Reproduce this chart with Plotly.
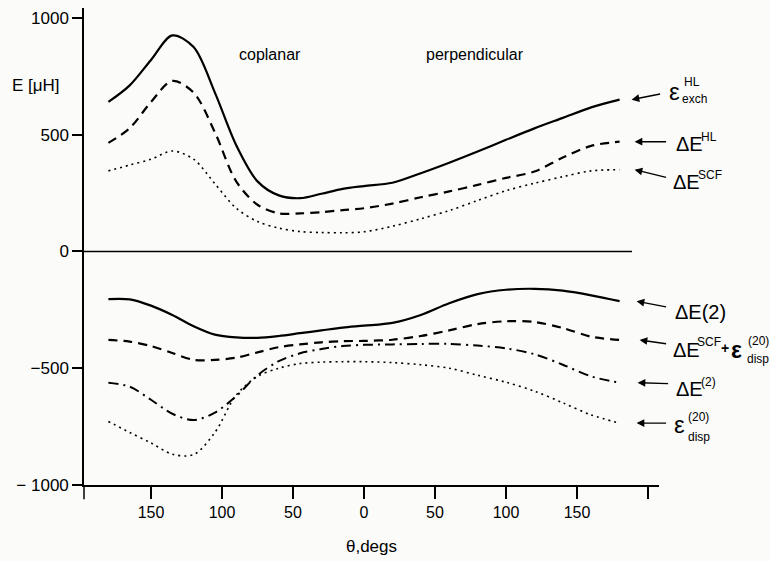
import plotly.graph_objects as go

# ---------------- data ----------------
theta = [-180, -165, -150, -135, -120, -105, -90, -75, -60, -45, -30, -15,
         0, 20, 40, 60, 80, 100, 120, 140, 160, 180]

eps_exch_hl = [640, 711, 820, 925, 875, 680, 455, 300, 240, 228, 247, 268,
               280, 294, 335, 380, 428, 478, 527, 572, 617, 650]
dE_hl = [465, 528, 640, 730, 680, 510, 300, 200, 163, 163, 168, 177,
         185, 205, 232, 257, 285, 315, 342, 402, 452, 470]
dE_scf = [345, 370, 395, 430, 395, 290, 185, 128, 100, 85, 81, 80,
          84, 108, 140, 175, 218, 260, 292, 320, 345, 350]
dE_2 = [-204, -205, -232, -272, -320, -356, -368, -370, -362, -350, -338, -326,
        -318, -306, -272, -222, -183, -164, -160, -168, -188, -213]
dE_scf_disp = [-379, -386, -405, -435, -464, -464, -455, -432, -410, -398, -389, -384,
               -383, -378, -362, -338, -311, -299, -302, -328, -365, -379]
dE_2sup = [-562, -579, -635, -695, -722, -690, -620, -530, -470, -436, -418, -405,
           -400, -398, -396, -396, -403, -415, -440, -485, -535, -562]
eps_disp = [-728, -775, -820, -868, -870, -775, -615, -535, -500, -480, -474, -472,
            -472, -476, -485, -500, -530, -560, -598, -648, -700, -735]

x_tickvals = [-150, -100, -50, 0, 50, 100, 150, 200]
x_ticktext = ["150", "100", "50", "0", "50", "100", "150", ""]
y_tickvals = [-1000, -500, 0, 500, 1000]
y_ticktext = ["\u2212 1000", "\u2212500", "0", "500", "1000"]

# ---------------- figure ----------------
FONT = "Liberation Sans"
W, H = 770, 561
ML, MR, MT, MB = 84, 111, 8, 71
PW, PH = W - ML - MR, H - MT - MB


def P(px, py):
    return (px - ML) / PW, (H - MB - py) / PH


fig = go.Figure()

series = [
    (eps_exch_hl, None, 2.2),
    (dE_hl, "9px,6px", 2.2),
    (dE_scf, "2px,4px", 1.6),
    (dE_2, None, 2.2),
    (dE_scf_disp, "9px,6px", 2.2),
    (dE_2sup, "10px,5px,2px,5px", 2.0),
    (eps_disp, "2px,4px", 1.6),
]
for ys, dash, w in series:
    fig.add_trace(go.Scatter(
        x=theta, y=ys, mode="lines",
        line=dict(color="black", width=w, dash=dash or "solid",
                  shape="spline", smoothing=0.9),
        showlegend=False, hoverinfo="skip"))

# zero line
fig.add_shape(type="line", xref="paper", x0=0, x1=P(632, 0)[0],
              yref="y", y0=0, y1=0, line=dict(color="black", width=1.5))
# y-axis stub below x axis
fig.add_shape(type="line", xref="paper", x0=0, x1=0, yref="paper",
              y0=0, y1=-0.03, line=dict(color="black", width=1.5))

# arrows pointing at curve ends: (series, head x shift, tail dx, tail dy)
arrows = [
    (eps_exch_hl, 12, 30, -6),
    (dE_hl, 15, 33, 0),
    (dE_scf, 15, 33, 8),
    (dE_2, 17, 31, 6),
    (dE_scf_disp, 20, 28, 4),
    (dE_2sup, 18, 32, 1),
    (eps_disp, 17, 31, 0),
]
for ys, hs, dx, dy in arrows:
    fig.add_annotation(x=theta[-1], y=ys[-1], xref="x", yref="y", text="",
                       showarrow=True, arrowhead=2, arrowsize=1.1, arrowwidth=1.4,
                       arrowcolor="black", ax=dx, ay=dy, xshift=hs, standoff=0)

labels = [
    ("ε", 667, 92, 24), ("HL", 682, 83, 12), ("exch", 680, 100, 12),
    ("ΔE", 674, 145, 20), ("HL", 699, 138, 12),
    ("ΔE", 671, 184, 20), ("SCF", 696, 177, 12),
    ("ΔE(2)", 673, 315, 20),
    ("ΔE", 671, 354, 20), ("SCF", 695, 346, 12), ("<b>+</b>", 719, 352, 14),
    ("<b>ε</b>", 729, 354, 23), ("(20)", 746, 344, 12), ("disp", 745, 363, 12),
    ("ΔE", 674, 393, 20), ("(2)", 699, 386, 12),
    ("ε", 672, 429, 24), ("(20)", 686, 421, 12), ("disp", 686, 441, 12),
]
for t, px, py, s in labels:
    xx, yy = P(px, py)
    fig.add_annotation(x=xx, y=yy, xref="paper", yref="paper", text=t,
                       showarrow=False, xanchor="left", yanchor="middle",
                       font=dict(family=FONT, size=s, color="black"))

for t, px, py, s in [("coplanar", 270, 55, 16), ("perpendicular", 475, 55, 16),
                     ("E [μH]", 36, 86, 17)]:
    xx, yy = P(px, py)
    fig.add_annotation(x=xx, y=yy, xref="paper", yref="paper", text=t,
                       showarrow=False, xanchor="center", yanchor="middle",
                       font=dict(family=FONT, size=s, color="black"))

x0 = (ML - 364) / 1.42
x1 = (W - MR - 364) / 1.42
fig.update_xaxes(range=[x0, x1], tickvals=x_tickvals, ticktext=x_ticktext,
                 showline=True, linecolor="black", linewidth=1.5,
                 ticks="outside", ticklen=12, tickwidth=1.5, tickcolor="black",
                 showgrid=False, zeroline=False,
                 tickfont=dict(family=FONT, size=16, color="black"),
                 title=dict(text="θ,degs", standoff=20,
                            font=dict(family=FONT, size=17, color="black")))
fig.update_yaxes(range=[-1000, (254 - MT) / 0.236], tickvals=y_tickvals,
                 ticktext=y_ticktext,
                 showline=True, linecolor="black", linewidth=1.5,
                 ticks="outside", ticklen=10, tickwidth=1.5, tickcolor="black",
                 showgrid=False, zeroline=False,
                 tickfont=dict(family=FONT, size=17, color="black"))

fig.update_layout(width=W, height=H,
                  margin=dict(l=ML, r=MR, t=MT, b=MB, pad=0),
                  plot_bgcolor="#fbfbfa", paper_bgcolor="#fbfbfa",
                  font=dict(family=FONT, color="black"))

fig.write_html("out.html")
